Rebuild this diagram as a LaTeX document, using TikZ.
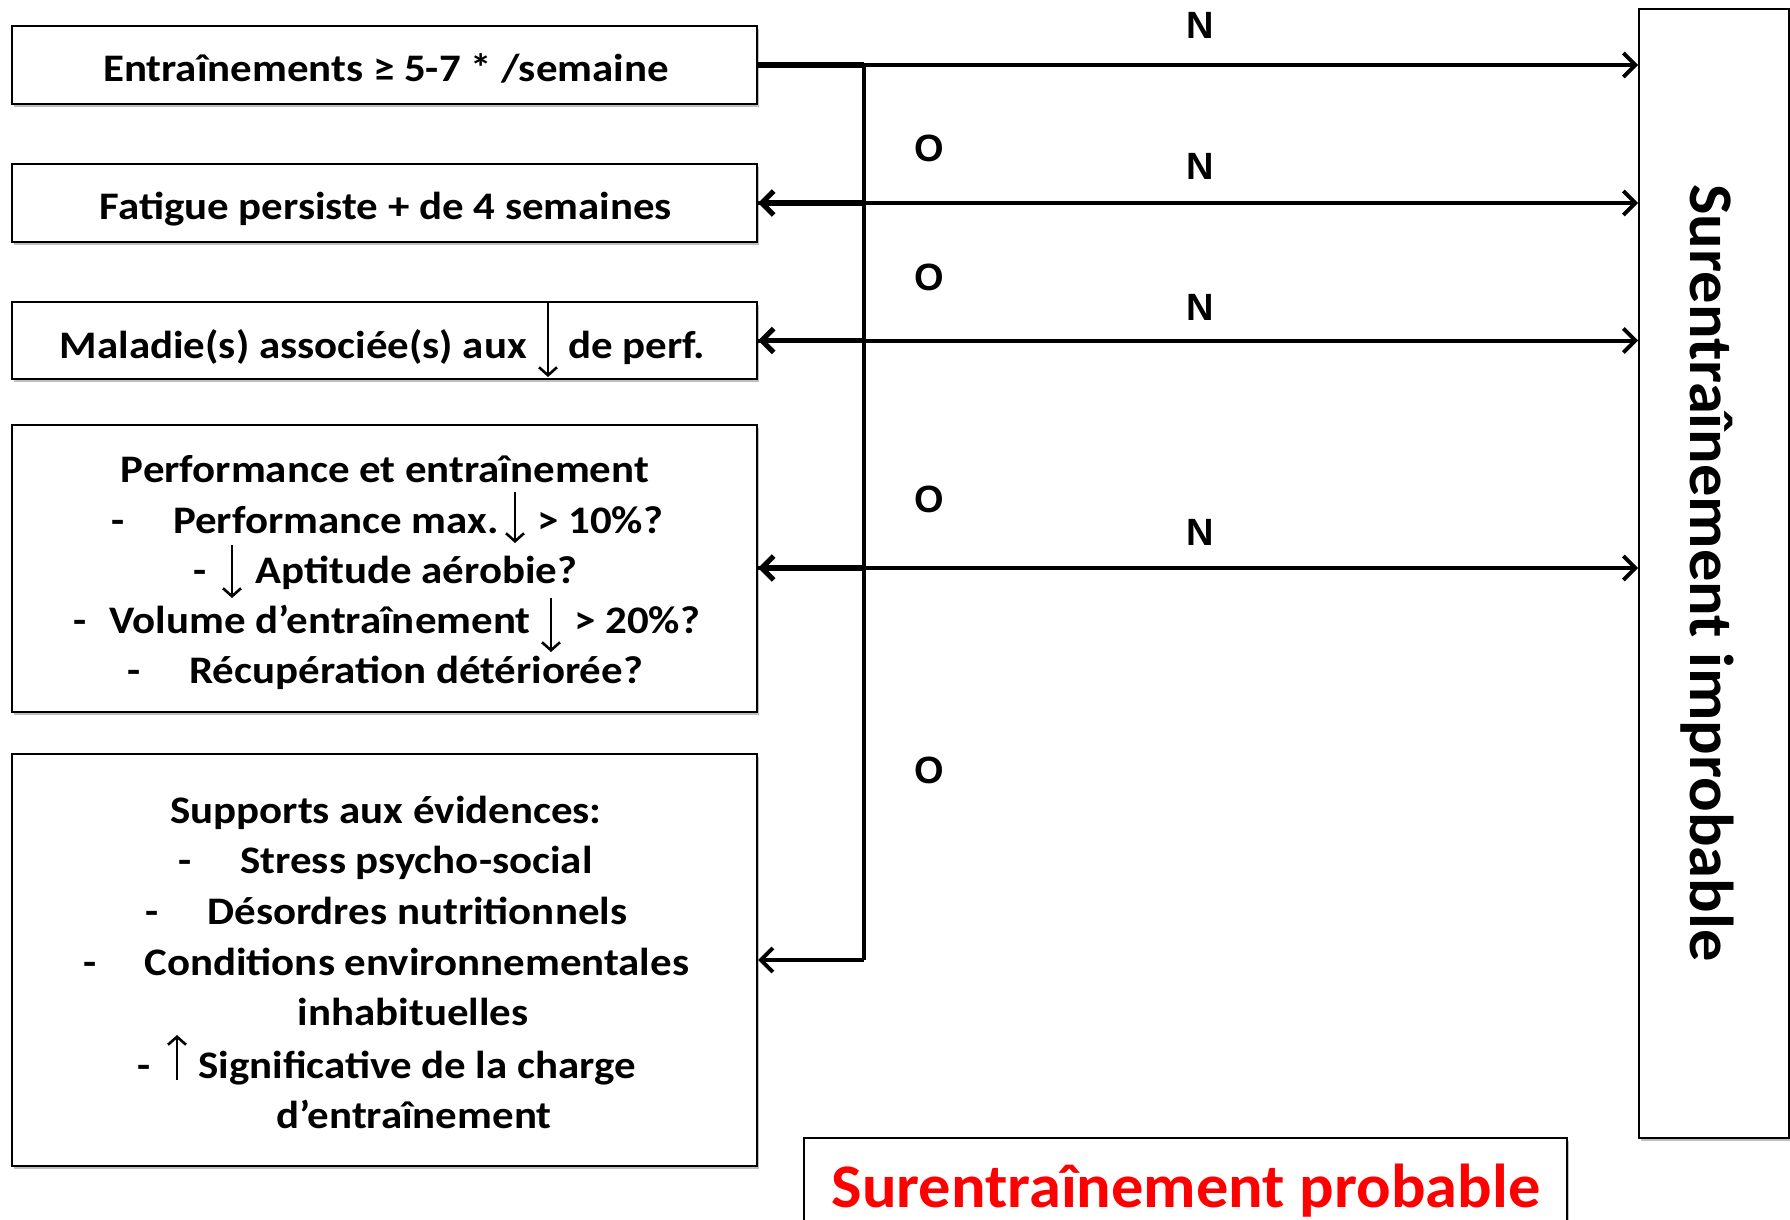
\documentclass[tikz,border=0pt]{standalone}
\usepackage{fontspec}
\setmainfont{Carlito}[FakeStretch=1.1]
\newfontfamily\redfont{Carlito}[FakeStretch=1.04]
\newfontfamily\ynfont{Liberation Sans}
\usetikzlibrary{arrows.meta,shadows}
\begin{document}
\begin{tikzpicture}[x=0.5pt,y=-0.5pt,
  box/.style={draw=black, line width=1pt, fill=white, inner sep=0pt,
    drop shadow={shadow xshift=1.2pt, shadow yshift=-1.5pt, fill=black, opacity=0.25}},
  txt/.style={font=\bfseries\fontsize{19.5}{23}\selectfont, inner sep=0pt, anchor=base},
  big/.style={font=\redfont\bfseries\fontsize{31}{36}\selectfont, inner sep=0pt},
  yn/.style={font=\ynfont\bfseries\fontsize{19}{23}\selectfont, inner sep=0pt, anchor=base},
  mainarr/.style={line width=2pt, -{Straight Barb[length=6pt,width=12pt]}},
  inarr/.style={line width=2.6pt, -{Straight Barb[length=6pt,width=12pt]}},
  vline/.style={line width=1.6pt},
  smallarr/.style={line width=1.3pt, -{Straight Barb[length=4pt,width=9pt]}}
]
\useasboundingbox (0,0) rectangle (1790,1220);

% boxes
\node[box, minimum width=372.5pt, minimum height=39pt] (b1) at (384.5,65) {};
\node[box, minimum width=372.5pt, minimum height=39pt] (b2) at (384.5,203) {};
\node[box, minimum width=372.5pt, minimum height=38.5pt] (b3) at (384.5,340.5) {};
\node[box, minimum width=372.5pt, minimum height=143.5pt] (b4) at (384.5,568) {};
\node[box, minimum width=372.5pt, minimum height=206pt] (b5) at (384.5,960) {};
\node[box, line width=0.8pt, minimum width=75pt, minimum height=564.5pt] (R) at (1714,573.5) {};
\node[box, minimum width=381.5pt, minimum height=61pt] (P) at (1185.5,1199) {};

% box texts
\node[txt] (t1) at (386,82) {Entraînements ≥ 5-7 * /semaine};
\node[txt] (t2) at (386,220) {Fatigue persiste + de 4 semaines};
\node[txt, anchor=base east] (t3a) at (527,358) {Maladie(s) associée(s) aux};
\node[txt, anchor=base west] (t3b) at (568,358) {de perf.};
\draw[smallarr] (548,303) -- (548,377);

\node[txt] (t4a) at (385,482) {Performance et entraînement};
\node[txt] (t4b0) at (118,533) {-};
\node[txt, anchor=base east] (t4b) at (499,533) {Performance max.};
\node[txt, anchor=base west] (t4b2) at (537,533) {> 10\%?};
\draw[smallarr] (515,492) -- (515,543);
\node[txt] (t4c0) at (200,583) {-};
\node[txt, anchor=base west] (t4c) at (255,583) {Aptitude aérobie?};
\draw[smallarr] (232,545) -- (232,598);
\node[txt] (t4d0) at (80,633) {-};
\node[txt, anchor=base west] (t4d) at (109,633) {Volume d’entraînement};
\node[txt, anchor=base west] (t4d2) at (574,633) {> 20\%?};
\draw[smallarr] (551,598) -- (551,652);
\node[txt] (t4e0) at (134,683) {-};
\node[txt, anchor=base west] (t4e) at (189,683) {Récupération détériorée?};

\node[txt] (t5a) at (386,823) {Supports aux évidences:};
\node[txt] (t5b0) at (185,873) {-};
\node[txt, anchor=base west] (t5b) at (240,873) {Stress psycho-social};
\node[txt] (t5c0) at (152,924) {-};
\node[txt, anchor=base west] (t5c) at (207,924) {Désordres nutritionnels};
\node[txt] (t5d0) at (90,975) {-};
\node[txt, anchor=base west] (t5d) at (144,975) {Conditions environnementales};
\node[txt] (t5e) at (413,1025) {inhabituelles};
\node[txt] (t5f0) at (144,1078) {-};
\node[txt, anchor=base west] (t5f) at (198,1078) {Significative de la charge};
\draw[smallarr] (177,1080) -- (177,1035);
\node[txt] (t5g) at (414,1128) {d’entraînement};

\node[big, text=red, anchor=base] (tp) at (1186,1207) {Surentraînement probable};
\node[big, rotate=-90] (tr) at (1707,573) {Surentraînement improbable};

% connectors
\coordinate (jt) at (864,65);
\coordinate (jb) at (864,960);
\draw[vline] (jt) -- (jb);
\draw[mainarr] (b1.east) -- (b1.east -| R.west);
\draw[line width=2.6pt] (b1.east) -- (jt);
\draw[mainarr] (b2.east) -- (b2.east -| R.west);
\draw[inarr] (jt |- b2.east) -- (b2.east);
\draw[mainarr] (b3.east) -- (b3.east -| R.west);
\draw[inarr] (jt |- b3.east) -- (b3.east);
\draw[mainarr] (b4.east) -- (b4.east -| R.west);
\draw[inarr] (jt |- b4.east) -- (b4.east);
\draw[mainarr] (jb) -- (b5.east);

% labels
\node[yn] (n1) at (1200,39) {N};
\node[yn] (n2) at (1200,179) {N};
\node[yn] (n3) at (1200,320) {N};
\node[yn] (n4) at (1200,545) {N};
\node[yn] (o1) at (929,162) {O};
\node[yn] (o2) at (929,290) {O};
\node[yn] (o3) at (929,512) {O};
\node[yn] (o4) at (929,783) {O};
\end{tikzpicture}
\end{document}
